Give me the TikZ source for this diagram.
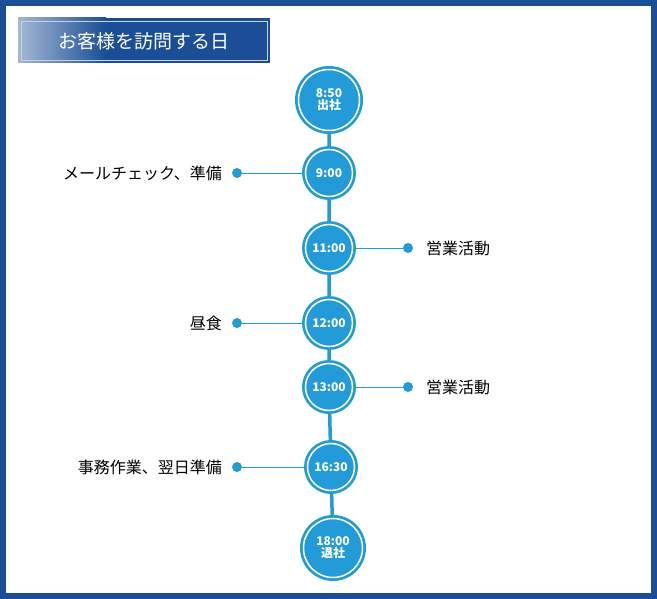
\documentclass[tikz,border=0pt]{standalone}
\usepackage{fontspec}
\setmainfont{Noto Sans CJK JP}
\definecolor{frame}{HTML}{1B4E96}
\definecolor{cb}{HTML}{229BD8}
\tikzset{
 dot/.style={circle,fill=cb,minimum size=10pt,inner sep=0pt},
 lbl/.style={font=\fontsize{16}{18}\selectfont,inner sep=0pt},
 ln/.style={draw=cb,line width=0.8pt},
}
\begin{document}
\begin{tikzpicture}[x=1pt,y=-1pt]
\useasboundingbox (0,0) rectangle (657,599);
\draw[frame,line width=6pt] (3,3) rectangle (654,596);
\fill[frame] (105,18) rectangle (270,63);
\shade[left color=frame!40,right color=frame] (18,18) rectangle (106,63);
\draw[white!75!frame,line width=0.8pt] (21,21) rectangle (267,60);
\node[text=white,font=\fontsize{19}{20}\selectfont] (title) at (144,41) {お客様を訪問する日};
\draw[cb,line width=3.5pt] (329,100) -- (329,248) -- (329,323) -- (329,387) -- (331,467) -- (333,548);
\foreach \n/\x/\y/\r/\t in {a/329/100/34/{8:50\\[-2pt]出社},b/329/173/27/{9:00},c/329/248/27/{11:00},d/329/323/27/{12:00},e/329/387/27/{13:00},f/331/467/27/{16:30},g/333/548/33/{18:00\\[-2pt]退社}}{
 \fill[cb] (\x,\y) circle (\r);
 \draw[white,line width=1.5pt] (\x,\y) circle (\r-3.5);
 \node[text=white,font=\bfseries\fontsize{12}{14}\selectfont,align=center] (\n) at (\x,\y) {\t};
}
\node[dot] (db) at (237,173) {}; \draw[ln] (db) -- (302,173);
\node[lbl,anchor=east] at (222,173) {メールチェック、準備};
\node[dot] (dc) at (408,248) {}; \draw[ln] (dc) -- (356,248);
\node[lbl,anchor=west] at (426,248) {営業活動};
\node[dot] (dd) at (237,323) {}; \draw[ln] (dd) -- (302,323);
\node[lbl,anchor=east] at (222,323) {昼食};
\node[dot] (de) at (408,387) {}; \draw[ln] (de) -- (356,387);
\node[lbl,anchor=west] at (426,387) {営業活動};
\node[dot] (df) at (237,467) {}; \draw[ln] (df) -- (304,467);
\node[lbl,anchor=east] at (222,467) {事務作業、翌日準備};
\end{tikzpicture}
\end{document}
